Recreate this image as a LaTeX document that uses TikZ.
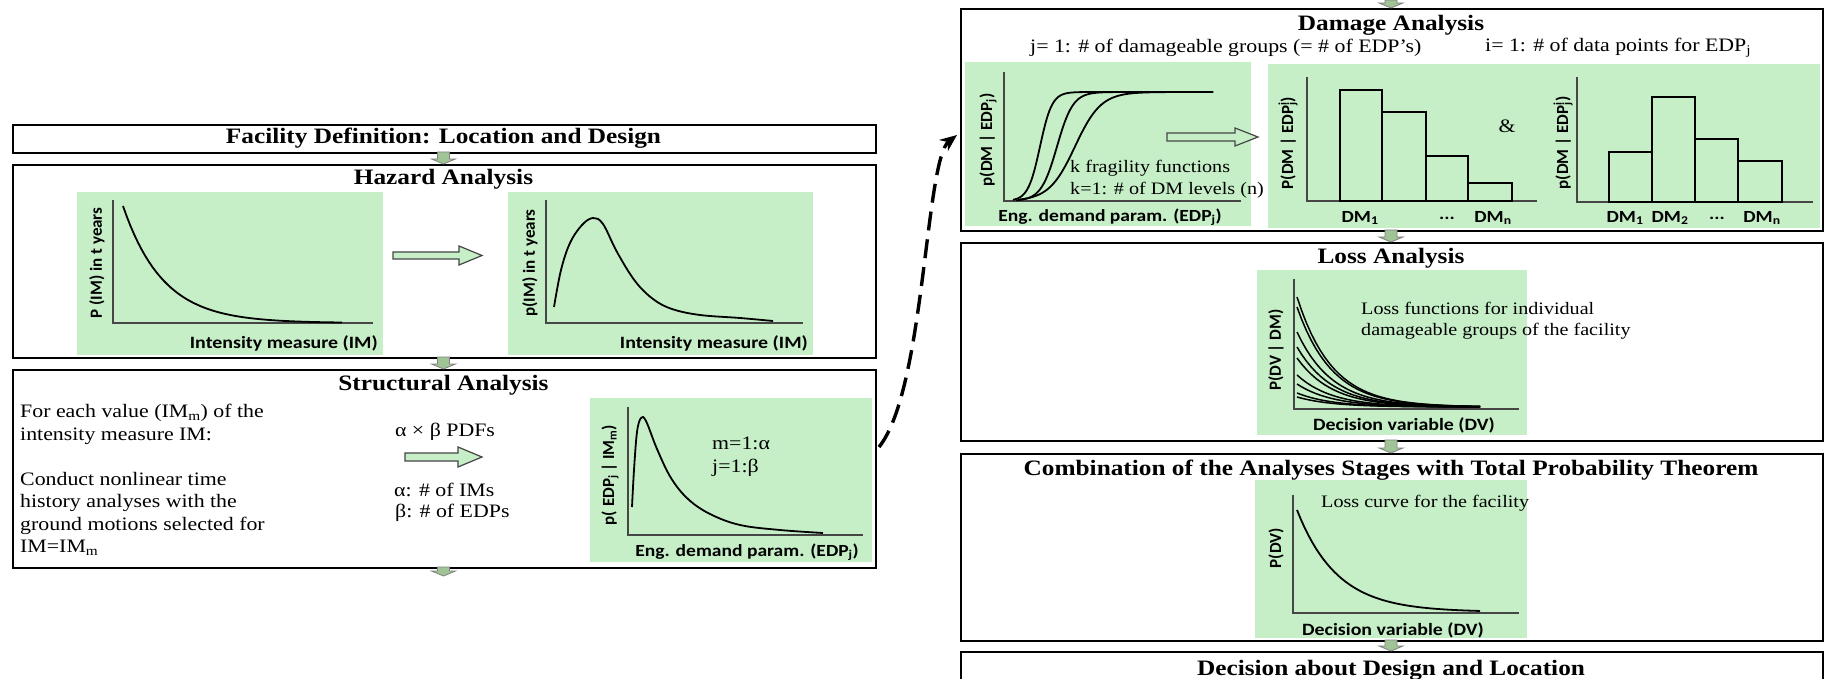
\documentclass[tikz,border=0pt]{standalone}
\usepackage{fontspec}
\setmainfont{Liberation Serif}[FakeStretch=1.15]
\newfontfamily\calibs{Carlito}[FakeStretch=1.15]
\newfontfamily\calibn{Carlito}
\usetikzlibrary{arrows.meta}
\definecolor{pgreen}{RGB}{198,239,200}
\definecolor{agreen}{RGB}{160,196,150}
\definecolor{axgray}{RGB}{70,70,70}
\newcommand\smarrow[3]{\filldraw[sarrow] (#1-6,#2) -- (#1+6,#2) -- (#1+6,#3-5) -- (#1+12,#3-5) -- (#1,#3) -- (#1-12,#3-5) -- (#1-6,#3-5) -- cycle;}
\begin{document}
\begin{tikzpicture}[x=1pt,y=-1pt,
 box/.style={draw=black,line width=2.2pt,fill=white,rectangle,inner sep=0pt,anchor=north west},
 ttl/.style={font=\bfseries\fontsize{22}{26}\selectfont,inner sep=0pt},
 txt/.style={font=\fontsize{19}{22.5}\selectfont,inner sep=0pt,align=left},
 stxt/.style={font=\fontsize{17.5}{21}\selectfont,inner sep=0pt,align=left},
 xl/.style={font=\calibs\bfseries\fontsize{17.3}{20}\selectfont,inner sep=0pt},
 xlb/.style={font=\calibs\bfseries\fontsize{17}{20}\selectfont,inner sep=0pt},
 yl/.style={font=\calibn\bfseries\fontsize{17}{20}\selectfont,inner sep=0pt,rotate=90},
 panel/.style={fill=pgreen},
 axis/.style={draw=axgray,line width=1.3pt},
 curve/.style={draw=black,line width=1.8pt,line join=round},
 lcurve/.style={draw=black,line width=1.5pt,line join=round},
 harrow/.style={fill=pgreen,draw=axgray,line width=1.2pt},
 sarrow/.style={fill=agreen,draw=gray,line width=0.8pt},
 dasharr/.style={line width=3.4pt,dash pattern=on 19pt off 9pt,-{Stealth[length=17pt,width=14pt]}},
 bar/.style={draw=black,line width=1.5pt}
]
\fill[white] (0,0) rectangle (1824,679);
\useasboundingbox (0,0) rectangle (1824,679);

% ---------- boxes ----------
\node[box,minimum width=863pt,minimum height=28pt] (fac) at (12,124) {};
\node[box,minimum width=863pt,minimum height=193pt] (haz) at (12,164) {};
\node[box,minimum width=863pt,minimum height=198pt] (str) at (12,369) {};
\node[box,minimum width=862pt,minimum height=222pt] (dam) at (960,8) {};
\node[box,minimum width=862pt,minimum height=198pt] (loss) at (960,242) {};
\node[box,minimum width=862pt,minimum height=187pt] (comb) at (960,453) {};
\node[box,minimum width=862pt,minimum height=40pt] (dec) at (960,651) {};

% ---------- titles ----------
\node[ttl] (facT) at (443.5,138) {Facility Definition: Location and Design};
\node[ttl] (hazT) at (443.5,179) {Hazard Analysis};
\node[ttl] (strT) at (443.5,385) {Structural Analysis};
\node[ttl] (damT) at (1391,25) {Damage Analysis};
\node[ttl] (lossT) at (1391,258) {Loss Analysis};
\node[ttl] (combT) at (1391,470) {Combination of the Analyses Stages with Total Probability Theorem};
\node[ttl] (decT) at (1391,670) {Decision about Design and Location};

% ---------- hazard ----------
\fill[panel] (77,192) rectangle (383,355);
\draw[axis] (113,200) -- (113,323) -- (373,323);
\draw[curve] plot[domain=123:342,samples=60] (\x,{323-117*exp(-(\x-123)/40)});
\node[yl] (h1y) at (97,263) {P (IM) in t years};
\node[xl,anchor=east] (h1x) at (378,343) {Intensity measure (IM)};
\draw[harrow] (393,252) -- (459,252) -- (459,246) -- (482,255.5) -- (459,265) -- (459,259) -- (393,259) -- cycle;
\fill[panel] (508,192) rectangle (813,355);
\draw[axis] (546,200) -- (546,323) -- (803,323);
\draw[curve] plot[smooth,tension=0.6] coordinates {(554,307) (561,270) (570,243) (582,225) (593,218) (603,224) (617,252) (635,281) (653,299) (672,309) (700,315) (740,318) (773,321)};
\node[yl] (h2y) at (530,263) {p(IM) in t years};
\node[xl,anchor=east] (h2x) at (808,343) {Intensity measure (IM)};

% ---------- structural ----------
\node[txt,anchor=west] (sl) at (20,480) {For each value (IM\textsubscript{m}) of the\\intensity measure IM:\\[22.5pt]Conduct nonlinear time\\history analyses with the\\ground motions selected for\\IM=IM\textsubscript{m}};
\node[txt] (ab) at (445,432) {α × β PDFs};
\draw[harrow] (405,453) -- (458,453) -- (458,447) -- (482,457) -- (458,467) -- (458,461) -- (405,461) -- cycle;
\node[txt,anchor=west] (na) at (394,490) {α: \# of IMs};
\node[txt,anchor=west] (nb) at (395,513) {β: \# of EDPs};
\fill[panel] (590,398) rectangle (872,562);
\draw[axis] (628,407) -- (628,535) -- (863,535);
\draw[curve] plot[smooth,tension=0.6] coordinates {(632,507) (634,470) (637,432) (641,418) (646,421) (657,449) (671,478) (688,499) (710,514) (740,525) (780,530) (823,533)};
\node[yl] (sy) at (610,475) {p( EDP\textsubscript{j} | IM\textsubscript{m})};
\node[xlb,anchor=east] (sx) at (859,552) {Eng. demand param. (EDP\textsubscript{j})};
\node[txt,anchor=west] (sm) at (712,443) {m=1:α};
\node[txt,anchor=west] (sj) at (712,468) {j=1:β};

% ---------- damage ----------
\node[txt,anchor=west] (dj) at (1030,48) {j= 1: \# of damageable groups (= \# of EDP’s)};
\node[txt,anchor=west] (di) at (1485,48) {i= 1: \# of data points for EDP\textsubscript{j}};
\fill[panel] (965,62) rectangle (1251,226);
\draw[axis] (1004,72) -- (1004,201) -- (1241,201);
\draw[curve] plot[domain=1013:1085,samples=60] (\x,{201-109/(1+exp(-(\x-1040)/6))}) -- (1213,92);
\draw[curve] plot[domain=1016:1125,samples=60] (\x,{201-109/(1+exp(-(\x-1057)/8))}) -- (1213,92);
\draw[curve] plot[domain=1020:1185,samples=60] (\x,{201-109/(1+exp(-(\x-1075)/13))}) -- (1213,92);
\node[yl] (fy) at (988,140) {p(DM | EDP\textsubscript{j})};
\node[xlb] (fx) at (1110,217) {Eng. demand param. (EDP\textsubscript{j})};
\node[stxt,anchor=west] (fk1) at (1070,168) {k fragility functions};
\node[stxt,anchor=west] (fk2) at (1070,190) {k=1: \# of DM levels (n)};
\draw[harrow] (1167,133) -- (1235,133) -- (1235,128) -- (1258,137) -- (1235,146) -- (1235,141) -- (1167,141) -- cycle;
\fill[panel] (1268,64) rectangle (1820,228);
\draw[axis] (1307,77) -- (1307,201) -- (1537,201);
\draw[bar] (1340,201) rectangle (1382,90);
\draw[bar] (1382,201) rectangle (1426,112);
\draw[bar] (1426,201) rectangle (1468,156);
\draw[bar] (1468,201) rectangle (1512,183);
\node[yl] (b1y) at (1288,143) {P(DM | EDP\rlap{\textsuperscript{i}}\textsubscript{j})};
\node[xlb] (b1a) at (1360,218) {DM\textsubscript{1}};
\node[xlb] (b1b) at (1447,218) {...};
\node[xlb] (b1c) at (1493,218) {DM\textsubscript{n}};
\node[txt] (amp) at (1507,126) {\&};
\draw[axis] (1577,77) -- (1577,202) -- (1813,202);
\draw[bar] (1609,202) rectangle (1652,152);
\draw[bar] (1652,202) rectangle (1695,97);
\draw[bar] (1695,202) rectangle (1738,139);
\draw[bar] (1738,202) rectangle (1782,161);
\node[yl] (b2y) at (1563,143) {p(DM | EDP\rlap{\textsuperscript{i}}\textsubscript{j})};
\node[xlb] (b2a) at (1625,218) {DM\textsubscript{1}};
\node[xlb] (b2b) at (1670,218) {DM\textsubscript{2}};
\node[xlb] (b2c) at (1717,218) {...};
\node[xlb] (b2d) at (1762,218) {DM\textsubscript{n}};

% ---------- loss ----------
\fill[panel] (1257,270) rectangle (1527,435);
\draw[axis] (1294,279) -- (1294,409) -- (1519,409);
\foreach \s in {297,307,332,347,358,375,384,393,397}
  \draw[lcurve] plot[domain=1297:1480,samples=40] (\x,{407-(407-\s)*exp(-(\x-1297)/35)});
\node[yl] (ly) at (1276,350) {P(DV | DM)};
\node[xl] (lx) at (1404,425) {Decision variable (DV)};
\node[stxt,anchor=north west] (lt) at (1361,302) {Loss functions for individual\\damageable groups of the facility};

% ---------- combination ----------
\fill[panel] (1255,480) rectangle (1527,638);
\draw[axis] (1293,495) -- (1293,613) -- (1519,613);
\draw[curve] plot[domain=1297:1480,samples=50] (\x,{612-102*exp(-(\x-1297)/40)});
\node[yl] (cy) at (1276,548) {P(DV)};
\node[xl] (cx) at (1393,630) {Decision variable (DV)};
\node[stxt,anchor=west] (ct) at (1321,503) {Loss curve for the facility};

% ---------- small flow arrows ----------
\smarrow{443.5}{152}{164}
\smarrow{443.5}{357}{369}
\smarrow{443.5}{567}{576}
\smarrow{1391}{0}{8}
\smarrow{1391}{230}{242}
\smarrow{1391}{440}{453}
\smarrow{1391}{640}{651}

% ---------- dashed connector ----------
\coordinate (dA) at (879,447);
\coordinate (dB) at (957,135);
\draw[dasharr] (dA) .. controls (925,390) and (925,160) .. (dB);
\end{tikzpicture}
\end{document}
